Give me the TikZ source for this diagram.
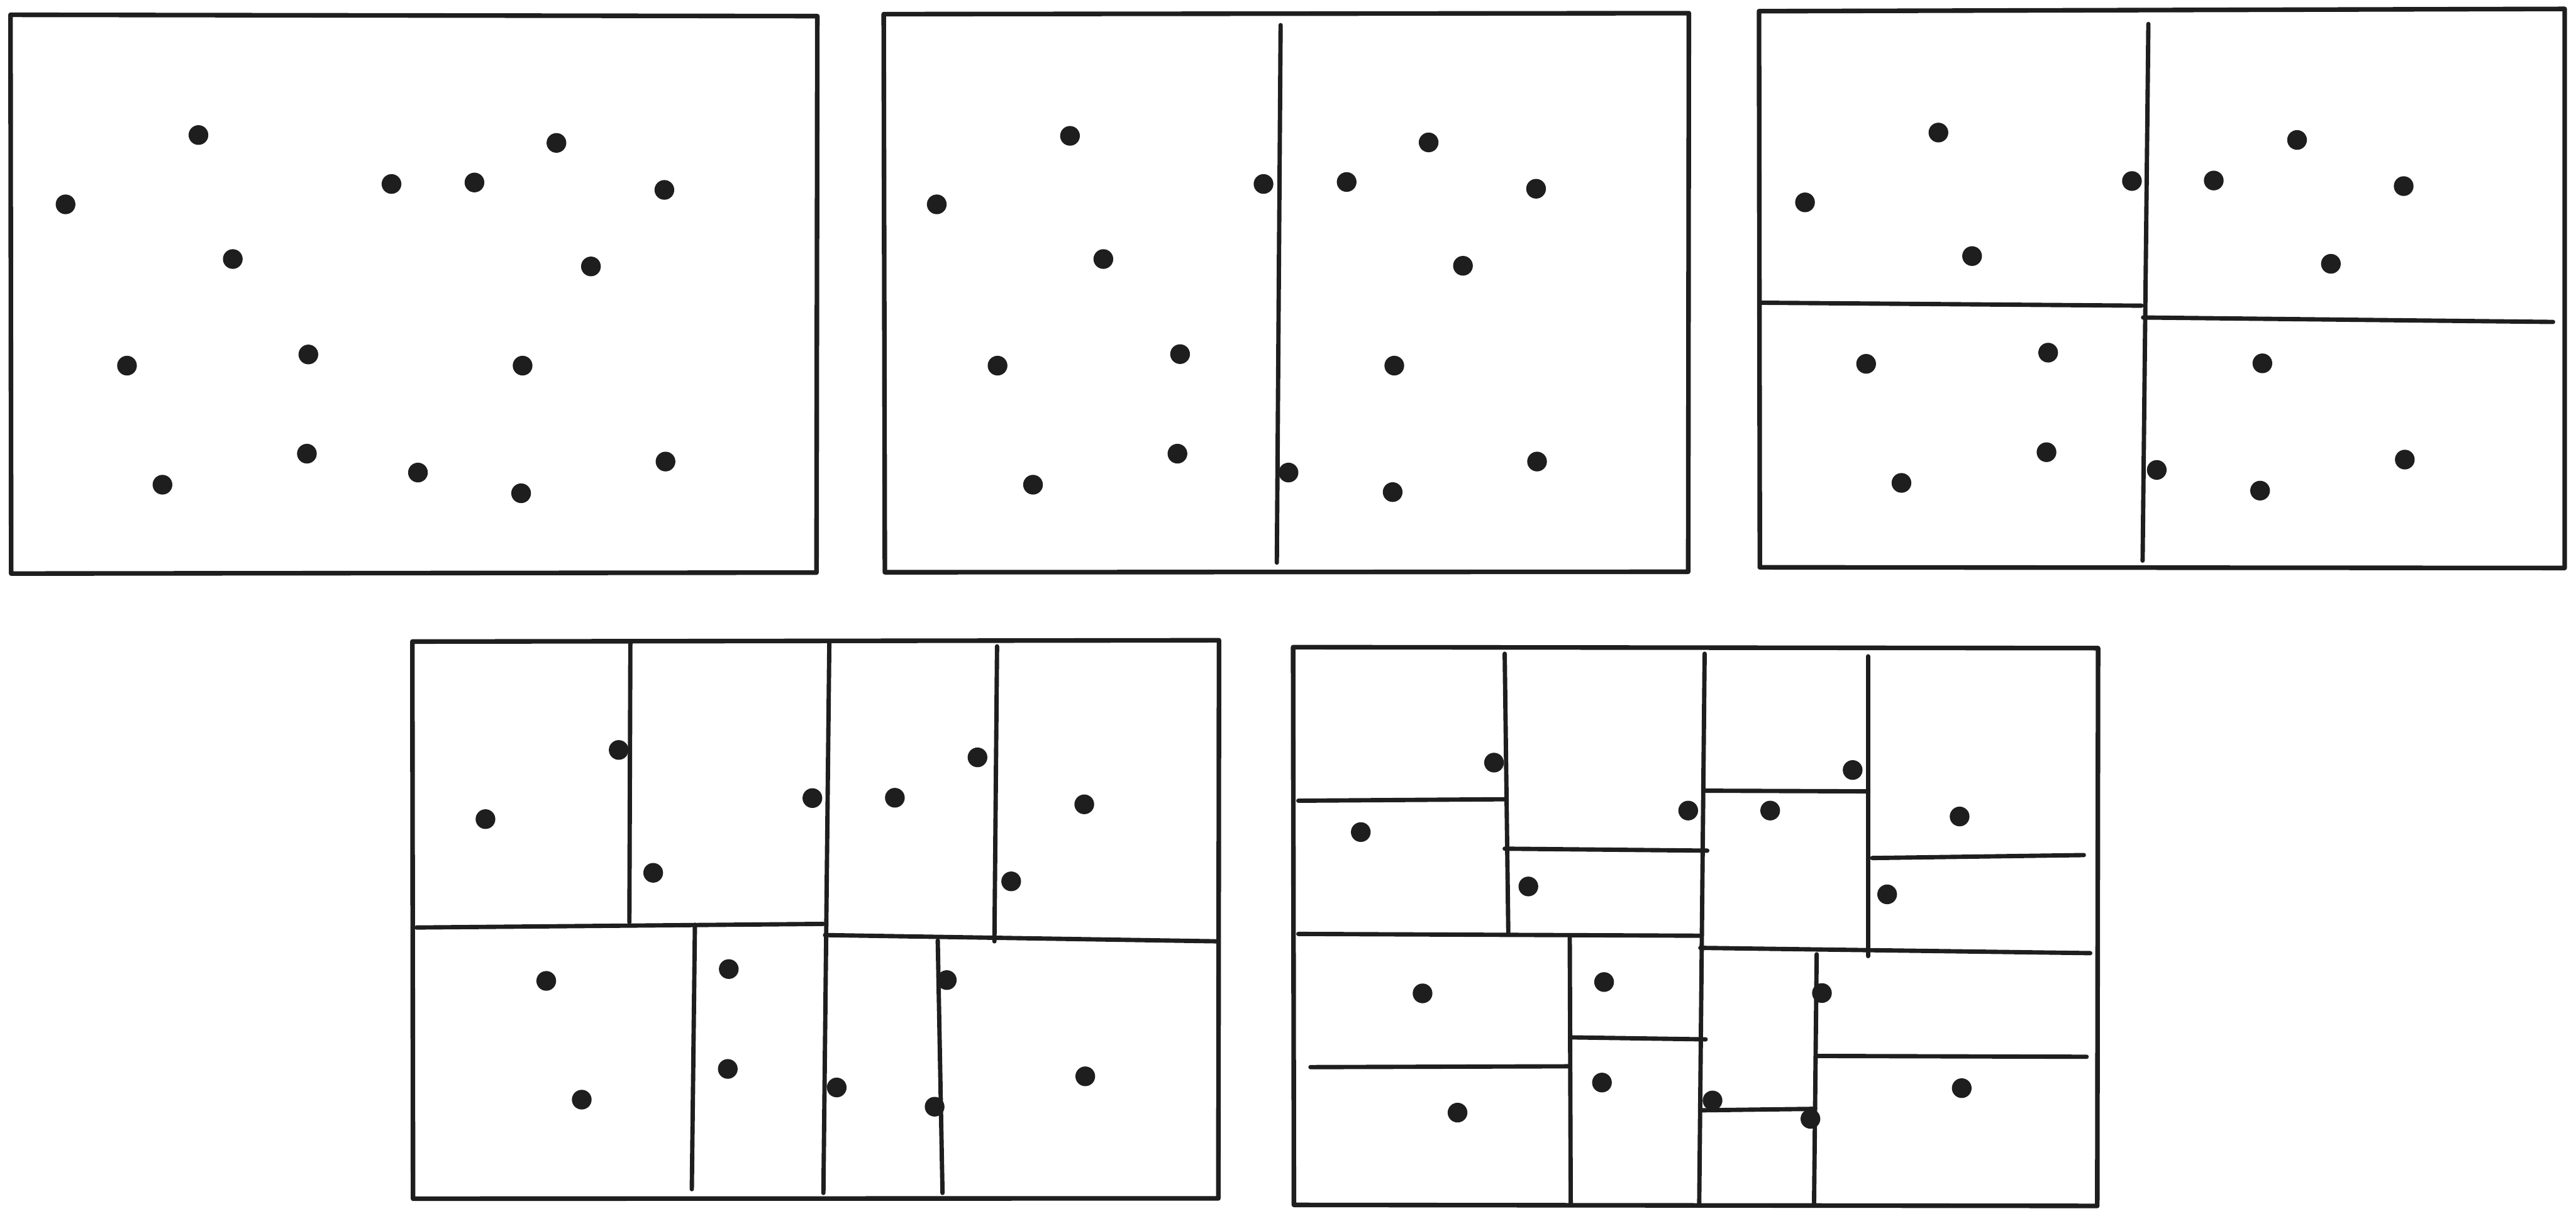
\documentclass[tikz,border=0pt]{standalone}
\usepackage{xcolor}
\definecolor{ink}{HTML}{1E1E1E}

\begin{document}
\begin{tikzpicture}[
    x=0.1mm, y=-0.1mm,
    box/.style={draw=ink, line width=0.8pt, line join=round, line cap=round},
    splitline/.style={draw=ink, line width=0.75pt, line cap=round},
    sample/.style={circle, fill=ink, inner sep=0pt, minimum size=1.2mm},
]
\useasboundingbox (0,0) rectangle (1568,740);

% Panel 1: the points only
\draw[box] (6.4,9.0) -- (497.5,9.8) -- (497.0,348.6) -- (6.8,349.2) -- cycle;
\foreach \x/\y [count=\i] in {120.8/82.2, 39.9/124.4, 238.3/112.0, 288.8/111.1, 338.7/87.0, 404.4/115.6,
    141.7/157.7, 359.7/162.2, 77.3/222.6, 187.7/215.8, 318.1/222.6, 98.9/295.1,
    186.8/276.2, 254.4/287.7, 317.2/300.3, 405.1/281.0}
  \node[sample] (a\i) at (\x,\y) {};

% Panel 2: first split
\draw[box] (537.9,8.6) -- (1028.0,8.0) -- (1027.6,348.1) -- (538.6,348.4) -- cycle;
\draw[splitline] (779.5,15.3) -- (777.2,342.5);
\foreach \x/\y [count=\i] in {651.3/82.7, 570.2/124.4, 769.1/112.0, 819.7/110.8, 869.6/86.7, 935.0/114.9,
    671.6/157.7, 890.5/161.8, 607.2/222.6, 718.3/215.6, 848.7/222.6, 628.8/295.1,
    716.7/276.2, 784.3/287.7, 847.7/299.6, 935.6/281.0}
  \node[sample] (b\i) at (\x,\y) {};

% Panel 3: second level
\draw[box] (1070.7,6.8) -- (1561.1,5.4) -- (1561.1,345.8) -- (1071.2,345.4) -- cycle;
\foreach \a/\b/\c/\d in {1307.7/14.6/1304.2/341.3, 1072.3/184.3/1303.5/186.1, 1304.5/193.3/1554.0/196.0}
  \draw[splitline] (\a,\b) -- (\c,\d);
\foreach \x/\y [count=\i] in {1179.9/80.7, 1098.7/123.2, 1297.7/110.2, 1347.5/109.9, 1398.2/85.2, 1463.1/113.3,
    1200.4/155.9, 1418.8/160.6, 1135.9/221.5, 1246.7/214.7, 1377.1/221.2, 1157.4/294.0,
    1245.7/275.3, 1312.8/286.1, 1375.7/298.7, 1463.8/279.8}
  \node[sample] (c\i) at (\x,\y) {};

% Panel 4: third level
\draw[box] (251.0,390.6) -- (742.0,389.8) -- (741.6,729.6) -- (251.4,729.8) -- cycle;
\foreach \a/\b/\c/\d in {504.8/390.6/501.2/726.3, 253.6/564.7/501.0/562.5, 502.2/569.3/740.5/573.1,
    383.7/390.6/383.1/561.4, 606.9/393.5/605.3/573.1, 423.0/563.0/421.1/724.0, 570.8/572.6/573.7/726.3}
  \draw[splitline] (\a,\b) -- (\c,\d);
\foreach \x/\y [count=\i] in {376.6/456.6, 295.5/498.7, 494.5/485.9, 544.7/485.7, 595.0/461.1, 660.0/489.7,
    397.6/531.4, 615.5/536.6, 332.5/597.2, 443.6/590.0, 576.3/596.7, 354.1/669.5,
    443.0/650.8, 509.3/662.1, 568.9/673.8, 660.6/655.3}
  \node[sample] (d\i) at (\x,\y) {};

% Panel 5: fourth level
\draw[box] (787.1,394.0) -- (1277.1,394.6) -- (1276.6,734.2) -- (787.6,733.6) -- cycle;
\foreach \a/\b/\c/\d in {1037.6/398.0/1034.3/733.0, 790.3/568.6/1035.0/569.7, 1035.0/577.1/1272.3/580.3,
    915.9/398.0/918.1/568.6, 1137.1/399.6/1137.1/582.1, 955.5/570.8/956.1/733.5, 1105.8/581.0/1104.2/733.5,
    790.3/487.5/916.8/486.6, 915.9/516.7/1039.2/517.9, 1038.2/481.4/1136.4/481.8, 1139.6/522.4/1268.4/520.6,
    797.7/649.7/955.5/649.2, 957.1/631.6/1038.2/632.8, 1035.0/676.0/1104.9/675.1, 1106.5/642.9/1270.1/643.4}
  \draw[splitline] (\a,\b) -- (\c,\d);
\foreach \x/\y [count=\i] in {909.4/464.3, 828.3/506.6, 1027.6/493.5, 1077.5/493.5, 1127.7/468.8, 1192.8/497.1,
    930.3/539.7, 1148.7/544.5, 865.9/604.8, 976.4/597.9, 1109.0/604.6, 887.2/677.4,
    975.1/659.1, 1042.4/670.0, 1102.0/681.2, 1194.1/662.5}
  \node[sample] (e\i) at (\x,\y) {};

\end{tikzpicture}
\end{document}
